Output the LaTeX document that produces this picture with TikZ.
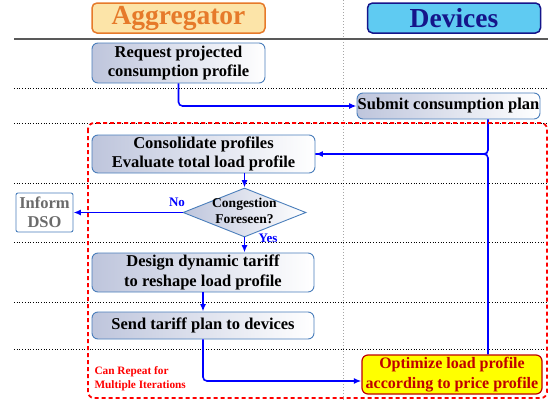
\documentclass[tikz,border=0pt]{standalone}
\usepackage{fontspec}
\setmainfont{Liberation Serif}
\usetikzlibrary{arrows.meta, positioning, shapes.geometric}

\definecolor{boxblue}{HTML}{4A7EBB}
\definecolor{boxshade}{HTML}{BEC5DC}
\definecolor{aggfill}{HTML}{FCE4A8}
\definecolor{aggline}{HTML}{E67A2A}
\definecolor{devfill}{HTML}{5FCBF2}
\definecolor{devline}{HTML}{15158A}
\definecolor{optline}{HTML}{C00000}
\definecolor{optfill}{HTML}{FFFF00}
\definecolor{flowblue}{HTML}{0000FF}

\begin{document}
\begin{tikzpicture}[x=1pt, y=-1pt,
	every node/.style={font=\bfseries\fontsize{16.5}{19.5}\selectfont},
	header/.style={draw, rounded corners=5pt, line width=1.5pt, minimum width=173pt, minimum height=30pt, inner sep=0pt, font=\bfseries\fontsize{27.5}{30}\selectfont},
	process/.style={draw=boxblue, line width=0.9pt, rounded corners=6pt, left color=boxshade, right color=white, align=center, inner sep=0pt},
	decision/.style={draw=boxblue, line width=0.9pt, diamond, left color=boxshade, right color=white, minimum width=123pt, minimum height=49pt, inner sep=0pt, font=\bfseries\fontsize{13.5}{16}\selectfont},
	flow/.style={-{Latex[length=7.5pt, width=6pt]}, draw=flowblue, line width=1.6pt, rounded corners=4pt},
	tag/.style={text=flowblue, font=\bfseries\fontsize{13}{15}\selectfont},
	lane/.style={dotted, line width=0.7pt}
	]
	\useasboundingbox (0,0) rectangle (558,402);
	
	% Swimlane lines
	\draw[gray!70, dotted, line width=1pt] (343,0) -- (343,402);
	\draw[black!65, line width=2pt] (14,39) -- (548,39);
	\foreach \y in {88, 123, 183, 242, 302, 349} {
		\draw[lane] (14,\y) -- (547,\y);
	}
	
	% Headers
	\node[header, fill=aggfill, draw=aggline, text=aggline] (agg) at (178.5,18) {Aggregator};
	\node[header, fill=devfill, draw=devline, text=devline] (dev) at (454,18) {Devices};
	
	% Steps
	\node[process, minimum width=173pt, minimum height=40pt] (req) at (178.5,63) {Request projected\\consumption profile};
	\node[process, minimum width=183pt, minimum height=26pt] (sub) at (448.5,106) {Submit consumption plan};
	\node[process, minimum width=223pt, minimum height=38pt] (cons) at (203.5,154) {Consolidate profiles\\Evaluate total load profile};
	\node[decision] (cong) at (244.5,212.5) {\makebox[0pt]{\begin{tabular}{@{}c@{}}Congestion\\Foreseen?\end{tabular}}};
	\node[draw=boxblue, line width=0.9pt, rounded corners=2pt, fill=white, text=black!58, minimum width=57pt, minimum height=39pt, align=center, inner sep=0pt] (dso) at (44.5,212.5) {Inform\\DSO};
	\node[process, minimum width=222pt, minimum height=39pt] (des) at (203,272.5) {Design dynamic tariff\\to reshape load profile};
	\node[process, minimum width=222pt, minimum height=27pt] (send) at (203,325.5) {Send tariff plan to devices};
	\node[draw=optline, line width=1.2pt, rounded corners=6pt, fill=optfill, text=optline, minimum width=180pt, minimum height=39pt, align=center, inner sep=0pt, font=\bfseries\fontsize{16}{19.5}\selectfont] (opt) at (452,374.5) {Optimize load profile\\according to price profile};
	
	% Connections
	\coordinate (jn) at (488,155);
	\draw[flow] (req.south) |- (sub.west);
	\draw[flow] (sub.south -| jn) |- (cons.east);
	\draw[flow, -] (opt.north -| jn) |- (cons.east);
	\draw[flow] (cons.south -| cong.north) -- (cong.north);
	\draw[flow] (cong.west) -- (dso.east);
	\node[tag] (no) at (177,202) {No};
	\draw[flow] (cong.south) -- (cong.south |- des.north);
	\node[tag] (yes) at (268,238) {Yes};
	\draw[flow] (des.south) -- (send.north);
	\draw[flow] (send.south) |- ([yshift=-6.5pt]opt.west);
	
	% Iteration loop
	\draw[red, line width=1.8pt, dash pattern=on 4pt off 3pt, rounded corners=6pt] (88,123) rectangle (547,398);
	\node[text=red, align=left, anchor=west, font=\bfseries\fontsize{11.3}{14}\selectfont] (rep) at (91,379) {Can Repeat for\\Multiple Iterations};
	
\end{tikzpicture}
\end{document}
